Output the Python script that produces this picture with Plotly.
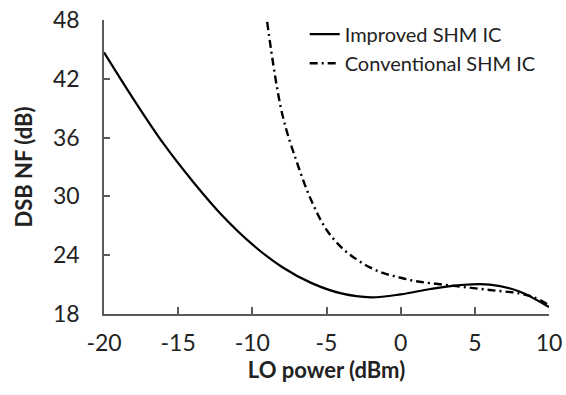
import plotly.graph_objects as go

# Data
improved_x = [-20, -18, -16, -14, -12, -10, -8, -6, -4, -2, 0, 2, 4, 6, 8, 10]
improved_y = [44.7, 39.9, 35.4, 31.5, 28.0, 25.1, 22.8, 21.15, 20.1, 19.7, 20.0, 20.55, 20.95, 21.0, 20.3, 18.7]

conv_x = [-9, -8, -7, -6, -5, -4, -3, -2, -1, 0, 1, 2, 4, 6, 8, 9, 10]
conv_y = [47.8, 38.5, 33.5, 29.5, 26.6, 24.8, 23.6, 22.7, 22.1, 21.7, 21.35, 21.15, 20.8, 20.45, 20.1, 19.7, 18.9]

x_ticks = [-20, -15, -10, -5, 0, 5, 10]
y_ticks = [18, 24, 30, 36, 42, 48]

FONT = "Lato"
AXIS_COLOR = "#5a5a5a"
TEXT_COLOR = "#222222"

fig = go.Figure()
fig.add_trace(go.Scatter(x=improved_x, y=improved_y, mode="lines", name="Improved SHM IC",
                         line=dict(color="black", width=2.2, shape="spline", smoothing=1.0)))
fig.add_trace(go.Scatter(x=conv_x, y=conv_y, mode="lines", name="Conventional SHM IC",
                         line=dict(color="black", width=2.4, shape="spline", smoothing=1.0,
                                   dash="8px,4px,2px,4px")))

fig.update_layout(
    width=566, height=395,
    margin=dict(l=104, r=17, t=20, b=81),
    paper_bgcolor="white", plot_bgcolor="white",
    font=dict(family=FONT, color=TEXT_COLOR),
    showlegend=True,
    legend=dict(x=0.451, y=1.018, xanchor="left", yanchor="top",
                font=dict(size=20, family=FONT, color=TEXT_COLOR),
                bgcolor="rgba(0,0,0,0)", tracegroupgap=0, itemwidth=30),
    xaxis=dict(range=[-20, 10], tickmode="array", tickvals=x_ticks,
               ticktext=[str(v) for v in x_ticks], automargin=False,
               showgrid=False, zeroline=False, showline=True, linecolor=AXIS_COLOR, linewidth=1.5,
               ticks="inside", ticklen=7, tickwidth=1.5, tickcolor=AXIS_COLOR,
               ticklabelstandoff=8,
               tickfont=dict(size=23, family=FONT, color=TEXT_COLOR),
               title=dict(text="<b>LO power (dBm)</b>", font=dict(size=22, family=FONT, color=TEXT_COLOR),
                          standoff=0)),
    yaxis=dict(range=[18, 48], tickmode="array", tickvals=y_ticks,
               ticktext=[str(v) for v in y_ticks], automargin=False,
               showgrid=False, zeroline=False, showline=True, linecolor=AXIS_COLOR, linewidth=1.5,
               ticks="inside", ticklen=6, tickwidth=1.5, tickcolor=AXIS_COLOR,
               ticklabelstandoff=18,
               tickfont=dict(size=23, family=FONT, color=TEXT_COLOR),
               title=dict(text="<b>DSB NF (dB)</b>", font=dict(size=22, family=FONT, color=TEXT_COLOR),
                          standoff=14)),
)

fig.write_html("out.html")
